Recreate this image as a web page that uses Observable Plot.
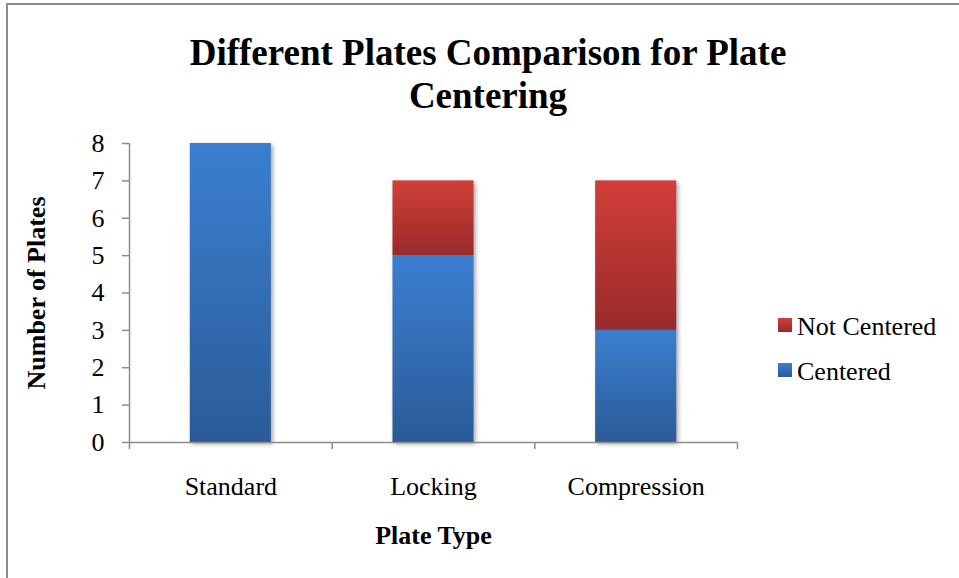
<!DOCTYPE html>
<html><head><meta charset="utf-8">
<script src="https://cdn.jsdelivr.net/npm/d3@7"></script>
<script src="https://cdn.jsdelivr.net/npm/@observablehq/plot@0.6"></script>
<style>
html,body{margin:0;padding:0;background:#fff;overflow:hidden}
#wrap{position:relative;width:959px;height:578px;overflow:hidden;font-family:"Liberation Serif","Times New Roman",serif;color:#000}
#frame{position:absolute;left:6px;top:3px;width:1000px;height:1000px;border:2px solid #8c8c8c;box-sizing:border-box}
#chart{position:absolute;left:0;top:0}
#title{position:absolute;left:0;width:976px;top:31px;text-align:center;font-weight:bold;font-size:37px;line-height:43px;margin:0}
#legend{position:absolute;left:778px;top:304px;font-size:26px}
#legend .item{height:45px;line-height:45px;white-space:nowrap}
#legend .sw{display:inline-block;width:14px;height:14px;margin-right:5px;vertical-align:3px}
#chart g[aria-label="rect"]{filter:drop-shadow(2px 2px 2px rgba(0,0,0,0.35))}
</style>
</head><body>
<div id="wrap">
  <div id="frame"></div>
  <div id="chart"></div>
  <h1 id="title">Different Plates Comparison for Plate<br>Centering</h1>
  <div id="legend"></div>
</div>
<script>
// ---- data ----
const title = "Different Plates Comparison for Plate Centering";
const categories = ["Standard", "Locking", "Compression"];
const seriesNames = ["Centered", "Not Centered"];
const centered = [8, 5, 3];
const notCentered = [0, 2, 4];
const yTicks = [0, 1, 2, 3, 4, 5, 6, 7, 8];
const xLabel = "Plate Type";
const yLabel = "Number of Plates";

// ---- styles ----
const gradients = {
  "Centered": {id: "gBlue", top: "#3b7fd0", bottom: "#2b5b98"},
  "Not Centered": {id: "gRed", top: "#d23f39", bottom: "#982a2a"}
};
const axisGray = "#8c8c8c";
const barHalf = 0.2;

// stacked segments derived from the series arrays
const segs = [];
categories.forEach((c, i) => {
  let base = 0;
  [centered, notCentered].forEach((arr, s) => {
    const v = arr[i];
    if (v > 0) segs.push({cat: c, i, series: seriesNames[s], y1: base, y2: base + v});
    base += v;
  });
});

const plot = Plot.plot({
  width: 959, height: 578,
  marginLeft: 129, marginRight: 222, marginTop: 143, marginBottom: 136,
  style: {fontFamily: "'Liberation Serif', 'Times New Roman', serif", fontSize: "26px", background: "transparent", color: "#000", overflow: "visible"},
  x: {domain: [0, categories.length]},
  y: {domain: [0, d3.max(yTicks)]},
  color: {type: "identity"},
  marks: [
    Plot.rectY(segs, {
      x1: d => d.i + 0.5 - barHalf,
      x2: d => d.i + 0.5 + barHalf,
      y1: "y1", y2: "y2",
      fill: d => `url(#${gradients[d.series].id})`,
      title: d => `${d.cat} – ${d.series}: ${d.y2 - d.y1}`
    }),
    Plot.ruleY([0], {stroke: axisGray, strokeWidth: 1.5}),
    Plot.ruleX([0], {stroke: axisGray, strokeWidth: 1.5}),
    Plot.axisY(yTicks, {tickSize: 7, tickPadding: 18, stroke: axisGray, strokeWidth: 1.5, fill: "#000", fontSize: 26, label: null, tickFormat: d => String(d)}),
    Plot.axisX(d3.range(categories.length + 1), {tickSize: 7, stroke: axisGray, strokeWidth: 1.5, fill: "none", label: null}),
    Plot.axisX(categories.map((c, i) => i + 0.5), {tickSize: 0, tickPadding: 34, fill: "#000", fontSize: 26, label: null, tickFormat: d => categories[Math.floor(d)]}),
    Plot.text([yLabel], {frameAnchor: "left", textAnchor: "middle", rotate: -90, dx: -93, fontWeight: "bold", fontSize: 26, fill: "#000"}),
    Plot.text([xLabel], {frameAnchor: "bottom", textAnchor: "middle", dy: 101, fontWeight: "bold", fontSize: 26, fill: "#000"})
  ]
});

// gradient definitions
const svg = d3.select(plot);
const defs = svg.insert("defs", ":first-child");
Object.values(gradients).forEach(g => {
  const lg = defs.append("linearGradient").attr("id", g.id).attr("x1", 0).attr("y1", 0).attr("x2", 0).attr("y2", 1);
  lg.append("stop").attr("offset", "0%").attr("stop-color", g.top);
  lg.append("stop").attr("offset", "100%").attr("stop-color", g.bottom);
});
document.getElementById("chart").appendChild(plot);

// legend (series in reverse order, as in the reference)
const legend = d3.select("#legend");
seriesNames.slice().reverse().forEach(s => {
  const it = legend.append("div").attr("class", "item");
  it.append("span").attr("class", "sw")
    .style("background", `linear-gradient(${gradients[s].top}, ${gradients[s].bottom})`);
  it.append("span").text(s);
});
</script>
</body></html>
